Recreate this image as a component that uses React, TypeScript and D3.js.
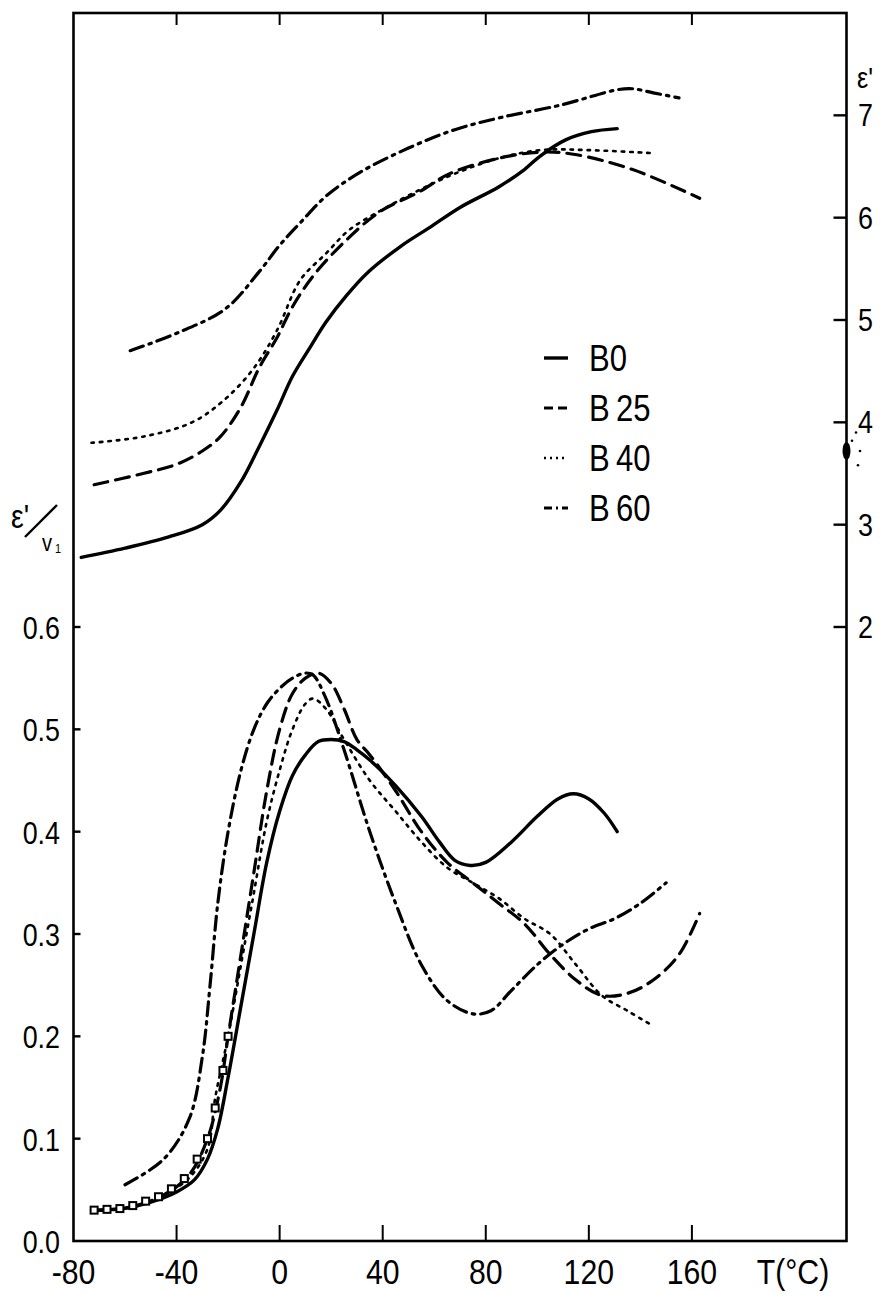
import React from "react";
import * as d3 from "d3";

// ---------- data ----------
const xTicks = [-80, -40, 0, 40, 80, 120, 160];
const leftTicks = [0.0, 0.1, 0.2, 0.3, 0.4, 0.5, 0.6];
const rightTicks = [2, 3, 4, 5, 6, 7];
const seriesNames = ["B0", "B25", "B40", "B60"];

// upper curves: epsilon' (right axis)
const b0Upper: [number, number][] = [[-77,2.68],[-60,2.77],[-43,2.88],[-30,3.0],[-23,3.14],[-15,3.42],[-8,3.76],[-1,4.12],[5,4.45],[12,4.74],[18,4.98],[26,5.24],[34,5.46],[47,5.72],[58,5.9],[70,6.1],[85,6.3],[95,6.47],[101,6.6],[111,6.76],[121,6.84],[131,6.87]];
const b25Upper: [number, number][] = [[-72,3.39],[-53,3.5],[-40,3.59],[-30,3.72],[-23,3.86],[-15,4.15],[-8,4.53],[-1,4.83],[5,5.13],[13,5.43],[25,5.76],[39,6.06],[54,6.25],[66,6.43],[85,6.58],[101,6.64],[114,6.62],[137,6.47],[163,6.19]];
const b40Upper: [number, number][] = [[-73,3.8],[-53,3.86],[-34,4.0],[-21,4.23],[-10,4.53],[-1,4.9],[8,5.39],[18,5.65],[27,5.88],[40,6.08],[55,6.28],[70,6.45],[85,6.58],[101,6.66],[120,6.66],[145,6.63]];
const b60Upper: [number, number][] = [[-58,4.7],[-40,4.87],[-21,5.11],[-8,5.47],[0,5.73],[8,5.95],[18,6.21],[31,6.44],[50,6.68],[68,6.86],[86,6.98],[109,7.1],[131,7.25],[137,7.26],[145,7.22],[155,7.17]];

// lower curves: epsilon'/v1 (left axis)
const b0Lower: [number, number][] = [[-73,0.03],[-60,0.032],[-50,0.038],[-40,0.048],[-33,0.06],[-28,0.08],[-24,0.11],[-20,0.16],[-15,0.23],[-10,0.3],[-5,0.37],[0,0.42],[5,0.455],[10,0.475],[15,0.488],[20,0.49],[25,0.488],[30,0.48],[35,0.47],[45,0.445],[55,0.415],[62,0.39],[68,0.372],[74,0.367],[80,0.37],[90,0.39],[100,0.415],[108,0.432],[114,0.437],[120,0.432],[126,0.418],[131,0.4]];
const b25Lower: [number, number][] = [[-73,0.03],[-60,0.032],[-45,0.045],[-35,0.065],[-28,0.1],[-23,0.15],[-20,0.2],[-15,0.28],[-10,0.36],[-5,0.44],[0,0.5],[5,0.535],[10,0.55],[15,0.555],[20,0.545],[25,0.52],[30,0.49],[35,0.475],[45,0.44],[55,0.4],[65,0.37],[75,0.35],[85,0.33],[95,0.31],[105,0.28],[115,0.255],[125,0.24],[135,0.242],[145,0.255],[155,0.28],[163,0.32]];
const b40Lower: [number, number][] = [[-73,0.03],[-60,0.032],[-45,0.045],[-35,0.062],[-28,0.09],[-25,0.14],[-20,0.2],[-15,0.27],[-10,0.34],[-5,0.41],[0,0.46],[5,0.5],[10,0.525],[13,0.53],[18,0.52],[25,0.49],[35,0.45],[45,0.42],[55,0.39],[65,0.365],[75,0.35],[85,0.335],[95,0.315],[105,0.3],[115,0.27],[125,0.24],[135,0.225],[145,0.21]];
const b60Lower: [number, number][] = [[-60,0.055],[-45,0.08],[-35,0.12],[-30,0.18],[-27,0.25],[-24,0.33],[-20,0.4],[-15,0.46],[-10,0.5],[-5,0.525],[0,0.54],[5,0.55],[10,0.555],[13,0.553],[18,0.53],[25,0.48],[35,0.4],[45,0.33],[55,0.27],[65,0.235],[75,0.222],[82,0.225],[90,0.245],[100,0.27],[110,0.29],[120,0.305],[130,0.315],[140,0.33],[150,0.35]];

// marker squares on low-temperature part (on the B25 curve)
const squareT = [-72, -67, -62, -57, -52, -47, -42, -37, -32, -28, -25, -22, -20];

const W = 889, H = 1293;
const FONT = "'Liberation Sans', Arial, sans-serif";
const SX = 0.84;

const styles = [
  { dash: "none", width: 3.4 },
  { dash: "14 8", width: 3.2 },
  { dash: "2.5 6", width: 2.6 },
  { dash: "14 6 2.5 6", width: 3.2 },
];
const legendDash = ["none", "9 5", "2 4", "8 4 2 4"];

function Lbl(props: { x: number; y: number; size: number; anchor?: string; children: React.ReactNode }) {
  const { x, y, size, anchor = "start", children } = props;
  return (
    <text transform={`translate(${x},${y}) scale(${SX},1)`} fontSize={size} textAnchor={anchor} fill="#000">
      {children}
    </text>
  );
}

export default function App() {
  const x = d3.scaleLinear().domain([-80, 220]).range([73.5, 846.5]);
  const yL = d3.scaleLinear().domain([0, 1.2]).range([1241, 13]);
  const yR = d3.scaleLinear().domain([-4, 8]).range([1241, 13]);

  const lineR = d3.line<[number, number]>().x(d => x(d[0])).y(d => yR(d[1])).curve(d3.curveCatmullRom.alpha(0.5));
  const lineL = d3.line<[number, number]>().x(d => x(d[0])).y(d => yL(d[1])).curve(d3.curveCatmullRom.alpha(0.5));

  const upper = [b0Upper, b25Upper, b40Upper, b60Upper];
  const lower = [b0Lower, b25Lower, b40Lower, b60Lower];

  const x0 = x(-80), x1 = x(220), yTop = yL(1.2), yBot = yL(0);

  const b25interp = (t: number) => {
    for (let i = 0; i < b25Lower.length - 1; i++) {
      const a = b25Lower[i], b = b25Lower[i + 1];
      if (t >= a[0] && t <= b[0]) return a[1] + (b[1] - a[1]) * (t - a[0]) / (b[0] - a[0]);
    }
    return b25Lower[0][1];
  };

  return (
    <svg width={W} height={H} style={{ position: "absolute", left: 0, top: 0, background: "#fff" }} fontFamily={FONT}>
      <rect x={0} y={0} width={W} height={H} fill="#fff" />
      {/* frame */}
      <rect x={x0} y={yTop} width={x1 - x0} height={yBot - yTop} fill="none" stroke="#000" strokeWidth={2.6} />
      {/* bottom & top ticks */}
      {xTicks.slice(1).map(t => (
        <g key={"xt" + t}>
          <line x1={x(t)} x2={x(t)} y1={yBot} y2={yBot - 16} stroke="#000" strokeWidth={2} />
          <line x1={x(t)} x2={x(t)} y1={yTop} y2={yTop + 12} stroke="#000" strokeWidth={2} />
        </g>
      ))}
      {xTicks.map(t => (
        <Lbl key={"xl" + t} x={x(t)} y={1284} size={36} anchor="middle">{t}</Lbl>
      ))}
      <Lbl x={793} y={1284} size={36} anchor="middle">T(°C)</Lbl>
      {/* left ticks */}
      {leftTicks.slice(1).map(v => (
        <line key={"lt" + v} x1={x0} x2={x0 + 7} y1={yL(v)} y2={yL(v)} stroke="#000" strokeWidth={2.4} />
      ))}
      {leftTicks.map(v => (
        <Lbl key={"ll" + v} x={60} y={yL(v) + 12} size={32} anchor="end">{v.toFixed(1)}</Lbl>
      ))}
      {/* right ticks */}
      {rightTicks.map(v => (
        <g key={"rt" + v}>
          <line x1={x1} x2={x1 - 13} y1={yR(v)} y2={yR(v)} stroke="#000" strokeWidth={2.4} />
          <Lbl x={858} y={yR(v) + 11} size={32}>{v}</Lbl>
        </g>
      ))}
      {/* axis titles */}
      <Lbl x={857} y={88} size={30}>ε'</Lbl>
      <Lbl x={11} y={528} size={34}>ε'</Lbl>
      <line x1={25} y1={537} x2={57} y2={505} stroke="#000" strokeWidth={2.4} />
      <Lbl x={42} y={551} size={24}>v</Lbl>
      <Lbl x={55} y={553} size={13}>1</Lbl>

      {/* curves */}
      {upper.map((d, i) => (
        <path key={"u" + i} d={lineR(d) || ""} fill="none" stroke="#000" strokeWidth={styles[i].width} strokeDasharray={styles[i].dash} strokeLinecap="round" />
      ))}
      {lower.map((d, i) => (
        <path key={"l" + i} d={lineL(d) || ""} fill="none" stroke="#000" strokeWidth={styles[i].width} strokeDasharray={styles[i].dash} strokeLinecap="round" />
      ))}
      {squareT.map(t => (
        <rect key={"sq" + t} x={x(t) - 3.5} y={yL(b25interp(t)) - 3.5} width={7} height={7} fill="#fff" stroke="#000" strokeWidth={2} />
      ))}
      {/* blob on right axis */}
      <ellipse cx={x1} cy={yR(3.72)} rx={4} ry={9} fill="#000" />
      {[[856, 3.9], [860, 3.72], [858, 3.58], [852, 3.82]].map((p, i) => (
        <circle key={"bd" + i} cx={p[0]} cy={yR(p[1])} r={1.3} fill="#000" />
      ))}

      {/* legend */}
      {seriesNames.map((n, i) => (
        <g key={"lg" + n}>
          <line x1={544} x2={568} y1={358 + i * 50} y2={358 + i * 50} stroke="#000" strokeWidth={styles[i].width} strokeDasharray={legendDash[i]} />
          <Lbl x={589} y={371 + i * 50} size={37}>{n === "B0" ? "B0" : "B\u2009" + n.slice(1)}</Lbl>
        </g>
      ))}
    </svg>
  );
}
